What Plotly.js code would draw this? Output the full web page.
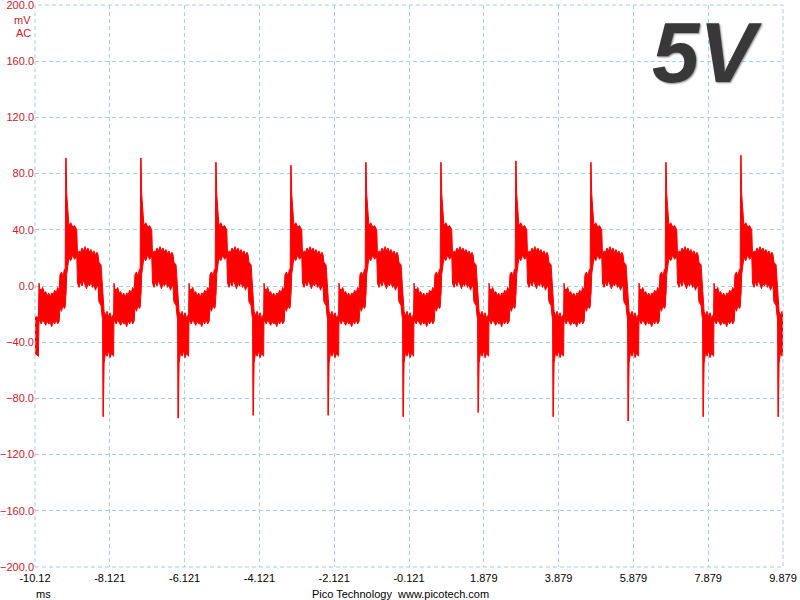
<!DOCTYPE html>
<html>
<head>
<meta charset="utf-8">
<script src="https://cdn.plot.ly/plotly-3.0.1.min.js"></script>
<style>
  html, body { margin: 0; padding: 0; background: #fff; }
  #chart { width: 800px; height: 600px; }
</style>
</head>
<body>
<div id="chart"></div>
<script>
// scope trace (time in ms, amplitude in mV AC)

// where each cycle steps up out of the low band
const periodStartMs = [-10.014, -8.009, -6.003, -3.998, -1.993, 0.013, 2.018, 4.023, 6.029, 8.034];
// peak of the upward spike in each cycle
const spikeUpMv = [91, 91, 88, 86, 88, 88, 89, 88, 88, 93];
// bottom of the downward spike in each cycle
const spikeDownMv = [-93, -94, -92, -92, -93, -90, -93, -96, -93, -93];

// shape of one cycle: time from the step, top and bottom of the noise band
// (null = the spike value of that cycle)
const phaseMs = [0.000, 0.020, 0.060, 0.100, 0.140, 0.180, 0.220, 0.260, 0.300, 0.340, 0.380, 0.420, 0.460, 0.500, 0.540,
                 0.560, 0.600, 0.640, 0.680, 0.700, 0.715, 0.725, 0.740, 0.770, 0.800, 0.850, 0.900, 0.950, 1.010,
                 1.030, 1.070, 1.110, 1.150, 1.190, 1.230, 1.270, 1.310, 1.350, 1.390, 1.430, 1.470, 1.510, 1.550, 1.580,
                 1.600, 1.660, 1.680, 1.700, 1.710, 1.720, 1.740, 1.780, 1.820, 1.860, 1.900, 1.940, 1.995];
const bandTopMv = [2, -2, -3, -1, -5, -4, -7, -5, -8, -5, -6, -3, -5, -1, -3,
                   8, 10, 7, 12, 11, null, null, 66, 50, 43, 45, 42, 43, 40,
                   22, 25, 24, 27, 25, 28, 25, 27, 24, 26, 23, 25, 22, 24, 22,
                   17, 15, 6, -6, -10, -12, -18, -21, -18, -22, -19, -23, -20];
const bandLowMv = [-22, -25, -27, -24, -26, -28, -25, -27, -26, -29, -25, -27, -24, -27, -25,
                   -15, -18, -14, -16, -15, -8, -5, 8, 14, 20, 18, 22, 19, 21,
                   2, -1, 3, 0, 4, 1, -2, 2, 0, 3, -1, 1, -3, 0, 0,
                   -11, -14, -20, -24, null, null, -55, -47, -50, -46, -51, -48, -50];

// tail of the previous cycle at the left edge
const leadMs = [-10.121, -10.030];
const leadTopMv = [-22, -22];
const leadLowMv = [-48, -50];

const xTickMs = [-10.121, -8.121, -6.121, -4.121, -2.121, -0.121, 1.879, 3.879, 5.879, 7.879, 9.879];
const xTickText = ['-10.12', '-8.121', '-6.121', '-4.121', '-2.121', '-0.121', '1.879', '3.879', '5.879', '7.879', '9.879'];
const yTickMv = [-200, -160, -120, -80, -40, 0, 40, 80, 120, 160, 200];

let tMs = leadMs.slice(), upperMv = leadTopMv.slice(), lowerMv = leadLowMv.slice();
periodStartMs.forEach((start, k) => {
    phaseMs.forEach((p, i) => {
        tMs.push(+(start + p).toFixed(4));
        upperMv.push(bandTopMv[i] === null ? spikeUpMv[k] : bandTopMv[i]);
        lowerMv.push(bandLowMv[i] === null ? spikeDownMv[k] : bandLowMv[i]);
    });
});

const RED = '#ff0000';
const GRID = '#a3d0da';
const FONT = 'Liberation Sans, Arial, sans-serif';

const data = [
    {x: tMs, y: upperMv, type: 'scatter', mode: 'lines', line: {color: RED, width: 1}, hoverinfo: 'skip'},
    {x: tMs, y: lowerMv, type: 'scatter', mode: 'lines', line: {color: RED, width: 1},
     fill: 'tonexty', fillcolor: RED, hoverinfo: 'skip'}
];

const layout = {
    width: 800, height: 600,
    margin: {l: 35, r: 17, t: 5, b: 33},
    paper_bgcolor: '#fff', plot_bgcolor: '#fff',
    showlegend: false,
    font: {family: FONT, size: 11, color: '#000'},
    xaxis: {
        range: [-10.121, 9.879], tickmode: 'array', tickvals: xTickMs, ticktext: xTickText,
        showgrid: true, gridcolor: GRID, griddash: '4px,3px', gridwidth: 1,
        zeroline: false, showline: false, ticks: '', ticklabelstandoff: 3,
        ticklabeloverflow: 'allow',
        tickfont: {family: FONT, size: 11, color: '#000'}
    },
    yaxis: {
        range: [-200, 200], tickmode: 'array', tickvals: yTickMv, tickformat: '.1f',
        showgrid: true, gridcolor: GRID, griddash: '4px,3px', gridwidth: 1,
        zeroline: false, showline: false, ticks: '', ticklabeloverflow: 'allow',
        tickfont: {family: FONT, size: 11, color: '#d0202a'}
    },
    shapes: [
        {type: 'rect', xref: 'paper', yref: 'paper', x0: 0, x1: 1, y0: 0, y1: 1,
         line: {color: GRID, width: 1, dash: '4px,3px'}}
    ],
    annotations: [
        {text: 'mV', xref: 'paper', yref: 'paper', x: 0, y: 1, xanchor: 'right', yanchor: 'middle',
         xshift: -2, yshift: -15, showarrow: false, font: {family: FONT, size: 11, color: '#d0202a'}},
        {text: 'AC', xref: 'paper', yref: 'paper', x: 0, y: 1, xanchor: 'right', yanchor: 'middle',
         xshift: -2, yshift: -28, showarrow: false, font: {family: FONT, size: 11, color: '#d0202a'}},
        {text: 'ms', xref: 'paper', yref: 'paper', x: 0, y: 0, xanchor: 'center', yanchor: 'middle',
         xshift: 8, yshift: -27, showarrow: false, font: {family: FONT, size: 11, color: '#000'}},
        {text: 'Pico Technology\u00a0\u00a0www.picotech.com', xref: 'paper', yref: 'paper', x: 0.488, y: 0,
         xanchor: 'center', yanchor: 'middle', yshift: -27, showarrow: false,
         font: {family: FONT, size: 11, color: '#000'}},
        {text: '5V', xref: 'paper', yref: 'paper', x: 0.898, y: 0.916, xanchor: 'center', yanchor: 'middle',
         showarrow: false,
         font: {family: FONT, size: 85, color: '#383838', weight: 'bold', style: 'italic',
                shadow: '1px 1px 2px #888'}}
    ]
};

Plotly.newPlot('chart', data, layout, {staticPlot: true, displayModeBar: false});
</script>
</body>
</html>
